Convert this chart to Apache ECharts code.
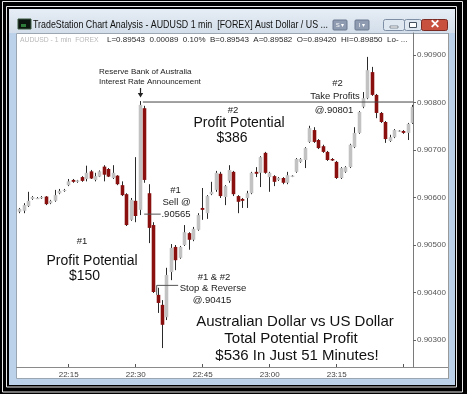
<!DOCTYPE html>
<html>
<head>
<meta charset="utf-8">
<script src="https://cdn.jsdelivr.net/npm/echarts@6/dist/echarts.min.js"></script>
<style>
html,body{margin:0;padding:0;background:#000;}
#chart{width:467px;height:394px;}
</style>
</head>
<body>
<div id="chart"></div>
<script>
// ---- data (AUDUSD 1 min) ----
var times = ['22:04','22:05','22:06','22:07','22:08','22:09','22:10','22:11','22:12','22:13','22:14',
'22:15','22:16','22:17','22:18','22:19','22:20','22:21','22:22','22:23','22:24','22:25','22:26','22:27','22:28','22:29',
'22:30','22:31','22:32','22:33','22:34','22:35','22:36','22:37','22:38','22:39','22:40','22:41','22:42','22:43','22:44',
'22:45','22:46','22:47','22:48','22:49','22:50','22:51','22:52','22:53','22:54','22:55','22:56','22:57','22:58','22:59',
'23:00','23:01','23:02','23:03','23:04','23:05','23:06','23:07','23:08','23:09','23:10','23:11','23:12','23:13','23:14',
'23:15','23:16','23:17','23:18','23:19','23:20','23:21','23:22','23:23','23:24','23:25','23:26','23:27','23:28','23:29',
'23:30','23:31','23:32'];
var opens = [0.90570,0.90572,0.90582,0.90597,0.90598,0.90599,0.90602,0.90588,0.90593,0.90609,0.90614,
0.90626,0.90637,0.90633,0.90643,0.90639,0.90655,0.90637,0.90644,0.90665,0.90660,0.90641,0.90646,0.90626,0.90607,0.90553,
0.90593,0.90574,0.90788,0.90609,0.90542,0.90395,0.90374,0.90348,0.90443,0.90496,0.90473,0.90500,0.90525,0.90511,0.90532,
0.90578,0.90567,0.90607,0.90616,0.90650,0.90601,0.90635,0.90654,0.90603,0.90597,0.90599,0.90609,0.90654,0.90652,0.90694,
0.90643,0.90645,0.90637,0.90641,0.90631,0.90644,0.90654,0.90675,0.90679,0.90717,0.90742,0.90721,0.90708,0.90696,0.90681,
0.90675,0.90641,0.90654,0.90664,0.90706,0.90736,0.90791,0.90809,0.90864,0.90816,0.90778,0.90759,0.90719,0.90727,0.90739,
0.90740,0.90736,0.90757];
var closes = [0.90576,0.90584,0.90593,0.90601,0.90599,0.90601,0.90586,0.90593,0.90605,0.90614,0.90616,
0.90634,0.90633,0.90636,0.90635,0.90652,0.90640,0.90645,0.90655,0.90648,0.90644,0.90652,0.90628,0.90605,0.90542,0.90595,
0.90561,0.90795,0.90637,0.90536,0.90401,0.90378,0.90332,0.90437,0.90494,0.90468,0.90496,0.90527,0.90511,0.90534,0.90563,
0.90574,0.90603,0.90612,0.90652,0.90603,0.90624,0.90658,0.90607,0.90591,0.90593,0.90609,0.90652,0.90650,0.90685,0.90652,
0.90652,0.90633,0.90641,0.90631,0.90647,0.90646,0.90681,0.90681,0.90704,0.90746,0.90717,0.90704,0.90696,0.90679,0.90678,
0.90641,0.90662,0.90664,0.90711,0.90736,0.90780,0.90809,0.90868,0.90816,0.90778,0.90759,0.90723,0.90727,0.90742,0.90741,
0.90736,0.90755,0.90791];
var lows = [0.90567,0.90567,0.90580,0.90595,0.90597,0.90597,0.90584,0.90586,0.90591,0.90607,0.90612,
0.90624,0.90631,0.90631,0.90633,0.90634,0.90639,0.90634,0.90643,0.90634,0.90643,0.90639,0.90626,0.90603,0.90540,0.90551,
0.90548,0.90563,0.90631,0.90504,0.90399,0.90357,0.90283,0.90342,0.90426,0.90447,0.90471,0.90498,0.90490,0.90508,0.90530,
0.90553,0.90555,0.90605,0.90612,0.90599,0.90584,0.90631,0.90603,0.90567,0.90578,0.90578,0.90607,0.90643,0.90622,0.90650,
0.90612,0.90624,0.90635,0.90628,0.90628,0.90643,0.90652,0.90673,0.90662,0.90715,0.90715,0.90702,0.90694,0.90677,0.90677,
0.90639,0.90639,0.90652,0.90662,0.90704,0.90734,0.90788,0.90807,0.90814,0.90767,0.90757,0.90715,0.90717,0.90725,0.90738,
0.90734,0.90721,0.90755];
var highs = [0.90578,0.90588,0.90612,0.90603,0.90601,0.90603,0.90603,0.90595,0.90616,0.90618,0.90618,
0.90639,0.90639,0.90637,0.90645,0.90667,0.90658,0.90652,0.90657,0.90668,0.90662,0.90668,0.90647,0.90634,0.90609,0.90599,
0.90685,0.90803,0.90793,0.90628,0.90548,0.90410,0.90384,0.90452,0.90502,0.90500,0.90498,0.90542,0.90527,0.90538,0.90567,
0.90620,0.90605,0.90633,0.90656,0.90654,0.90626,0.90668,0.90656,0.90605,0.90599,0.90614,0.90654,0.90664,0.90687,0.90696,
0.90654,0.90647,0.90643,0.90643,0.90654,0.90647,0.90683,0.90683,0.90706,0.90751,0.90748,0.90723,0.90711,0.90698,0.90683,
0.90677,0.90664,0.90666,0.90713,0.90748,0.90782,0.90822,0.90896,0.90875,0.90818,0.90780,0.90761,0.90732,0.90744,0.90742,
0.90742,0.90757,0.90795];
var xTickLabels = ['22:15','22:30','22:45','23:00','23:15'];
var xTickOnly = ['23:30'];
var yTickLabels = ['0.90300','0.90400','0.90500','0.90600','0.90700','0.90800','0.90900'];
var sellLevel = 0.90565, stopLevel = 0.90415, stopFrom = 0.90395, takeProfitLevel = 0.90801;
var sellSpan = ['22:31.9','22:35.6'];
var stopSpan = ['22:34.7','22:39.5'];
var takeProfitStart = '22:31.6';

// ---- helpers ----
function toMin(t){ var p=t.split(':'); return (parseInt(p[0],10)-22)*60+parseFloat(p[1]); }
function fmtMin(v){ var h=22+Math.floor(v/60), m=Math.round(v%60); return h+':'+(m<10?'0':'')+m; }

var candleData = times.map(function(t,i){ return [toMin(t), opens[i], closes[i], lows[i], highs[i]]; });
var xMin = 3.425, xMax = 92.08;
var yMin = 0.9024316, yMax = 0.9094632;

function renderCandle(params, api){
  var x=api.value(0), o=api.value(1), c=api.value(2), l=api.value(3), h=api.value(4);
  var pO=api.coord([x,o]), pC=api.coord([x,c]), pL=api.coord([x,l]), pH=api.coord([x,h]);
  var w=api.size([1,0])[0]*0.8;
  var up = c>=o;
  var top=Math.min(pO[1],pC[1]), bot=Math.max(pO[1],pC[1]);
  var hh=Math.max(bot-top,1.2);
  var cx=Math.round(pO[0]-0.5)+0.5;
  return {type:'group', children:[
    {type:'line', shape:{x1:cx,y1:pH[1],x2:cx,y2:pL[1]}, style:{stroke:'#2a2a2a',lineWidth:1}},
    {type:'rect', shape:{x:cx-w/2,y:top,width:w,height:hh}, style:{fill: up?'#c2c2c2':'#8a1010'}}
  ]};
}

function txt(s,x,y,size,color,align,extra){
  var o={type:'text', z:100, style:{text:s,x:x,y:y,font:(size)+'px "Liberation Sans", Arial, sans-serif',
    fill:color||'#1a1a1a', textAlign:align||'center', textVerticalAlign:'middle', align:align||'center', verticalAlign:'middle'}};
  if(extra){ for(var k in extra) o.style[k]=extra[k]; }
  return o;
}

var titleText = txt('TradeStation Chart Analysis - AUDUSD 1 min  [FOREX] Aust Dollar / US ...',0,0,11,'#111','left');
titleText.x = 33; titleText.y = 25; titleText.scaleX = 0.805;

var graphics = [
  {type:'rect', z:-10, shape:{x:0,y:0,width:467,height:394}, style:{fill:'#000'}},
  {type:'rect', z:-9, shape:{x:2.5,y:1.5,width:460,height:390.5}, style:{fill:null,stroke:'#e8e8e8',lineWidth:1}},
  {type:'rect', z:-9, shape:{x:6.5,y:6.5,width:450,height:380.5}, style:{fill:null,stroke:'#e8e8e8',lineWidth:1}},
  {type:'rect', z:-8, shape:{x:9,y:9,width:446,height:376}, style:{fill:'#bcd2ea'}},
  {type:'rect', z:-8, shape:{x:9,y:9,width:446,height:24}, style:{fill:new echarts.graphic.LinearGradient(0,0,0,1,[{offset:0,color:'#e6edf5'},{offset:1,color:'#d3deea'}])}},
  {type:'rect', z:-7, shape:{x:16.5,y:33.5,width:432,height:345}, style:{fill:'#fff',stroke:'#9aa6b2',lineWidth:1}},
  // title icon
  {type:'rect', z:-6, shape:{x:18,y:19,width:13,height:10}, style:{fill:'#0c1410',stroke:'#3a5a40',lineWidth:1}},
  {type:'rect', z:-6, shape:{x:21,y:24,width:5,height:3}, style:{fill:'#2e7a3a'}},
  titleText,
  // small toolbar buttons
  {type:'rect', z:-6, shape:{x:333,y:20,width:14,height:10,r:1}, style:{fill:'#8e9bb0',stroke:'#6b7890'}},
  txt('S \u25BE',340,25,6,'#fff','center'),
  {type:'rect', z:-6, shape:{x:355,y:20,width:14,height:10,r:1}, style:{fill:'#8e9bb0',stroke:'#6b7890'}},
  txt('I \u25BE',362,25,6,'#fff','center'),
  // window buttons
  {type:'rect', z:-6, shape:{x:383.5,y:19.5,width:21,height:11,r:2}, style:{fill:'#dfe7f0',stroke:'#7e8ea4'}},
  {type:'rect', z:-5, shape:{x:390,y:26,width:8,height:2}, style:{fill:'#fff',stroke:'#44505e',lineWidth:0.6}},
  {type:'rect', z:-6, shape:{x:404.5,y:19.5,width:17,height:11,r:2}, style:{fill:'#dfe7f0',stroke:'#7e8ea4'}},
  {type:'rect', z:-5, shape:{x:409.5,y:22.5,width:7,height:5}, style:{fill:'#fff',stroke:'#44505e',lineWidth:1}},
  {type:'rect', z:-6, shape:{x:421.5,y:19.5,width:26,height:11,r:2}, style:{fill:'#c8503e',stroke:'#7a2a22'}},
  txt('\u2715',434.5,25,8,'#fff','center',{fontWeight:'bold'}),
  // info line
  txt('AUDUSD - 1 min  FOREX',20,40,6.8,'#b9b9b9','left'),
  txt('L=0.89543  0.00089  0.10%  B=0.89543  A=0.89582  O=0.89420  HI=0.89850  Lo- ...',107,40,8,'#2a2a2a','left'),
  // panel lines
  {type:'line', z:-5, shape:{x1:16,y1:367.5,x2:449,y2:367.5}, style:{stroke:'#8a8a8a',lineWidth:1}},
  {type:'line', z:-5, shape:{x1:448.5,y1:33,x2:448.5,y2:379}, style:{stroke:'#9a9a9a',lineWidth:1}},
  // annotations
  txt('Reserve Bank of Australia',99,72,8,'#222','left'),
  txt('Interest Rate Announcement',99,82,8,'#222','left'),
  {type:'line', z:100, shape:{x1:140.5,y1:88,x2:140.5,y2:94}, style:{stroke:'#222',lineWidth:1.2}},
  {type:'polygon', z:100, shape:{points:[[137.8,93],[143.2,93],[140.5,97.5]]}, style:{fill:'#222'}},
  txt('#2',233,110,9.5,'#222'),
  txt('Profit Potential',239,123,14,'#111'),
  txt('$386',232,138,14,'#111'),
  txt('#2',337.5,83,9.5,'#222'),
  txt('Take Profits',335,96,9.5,'#222'),
  txt('@.90801',334,110,9.5,'#222'),
  txt('#1',175.5,190,9.5,'#222'),
  txt('Sell @',176.5,202,9.5,'#222'),
  txt('.90565',176,214,9.5,'#222'),
  txt('#1 & #2',214,277,9.5,'#222'),
  txt('Stop & Reverse',213,288.5,9.5,'#222'),
  txt('@.90415',212,300,9.5,'#222'),
  txt('#1',82,241,9.5,'#222'),
  txt('Profit Potential',92,261,14,'#111'),
  txt('$150',84.5,276,14,'#111'),
  txt('Australian Dollar vs US Dollar',295,322,15,'#111'),
  txt('Total Potential Profit',291,339,15,'#111'),
  txt('$536 In Just 51 Minutes!',297,356,15,'#111')
];

var chart = echarts.init(document.getElementById('chart'), null, {renderer:'canvas'});
chart.setOption({
  animation:false,
  backgroundColor:'transparent',
  grid:{left:17, right:54, top:33, bottom:27, containLabel:false},
  xAxis:{type:'value', min:xMin, max:xMax,
    axisLine:{show:false}, splitLine:{show:false},
    axisTick:{show:true, inside:true, length:3, lineStyle:{color:'#555'}, customValues: xTickLabels.concat(xTickOnly).map(toMin)},
    axisLabel:{show:true, customValues: xTickLabels.map(toMin), formatter:function(v){return fmtMin(v);},
      fontSize:8, color:'#444', margin:4, fontFamily:'"Liberation Sans", Arial, sans-serif'}},
  yAxis:{type:'value', position:'right', min:yMin, max:yMax, scale:true,
    axisLine:{show:true, lineStyle:{color:'#7a7a7a'}}, splitLine:{show:false},
    axisTick:{show:true, length:3, lineStyle:{color:'#666'}, customValues: yTickLabels.map(Number)},
    axisLabel:{show:true, customValues: yTickLabels.map(Number), formatter:function(v){return v.toFixed(5);},
      fontSize:8, color:'#555', margin:4, fontFamily:'"Liberation Sans", Arial, sans-serif'}},
  graphic: graphics,
  series:[
    {type:'custom', renderItem:renderCandle, data:candleData, clip:true, encode:{x:0,y:[1,2,3,4]}, z:5},
    {type:'line', data:[[toMin(takeProfitStart),takeProfitLevel],[xMax,takeProfitLevel]], symbol:'none',
      lineStyle:{color:'#444',width:1}, z:6, silent:true},
    {type:'line', data:[[toMin(sellSpan[0]),sellLevel],[toMin(sellSpan[1]),sellLevel]], symbol:'none',
      lineStyle:{color:'#555',width:1}, z:6, silent:true},
    {type:'line', data:[[toMin(stopSpan[0]),stopFrom],[toMin(stopSpan[0]),stopLevel],[toMin(stopSpan[1]),stopLevel]], symbol:'none',
      lineStyle:{color:'#555',width:1}, z:6, silent:true}
  ]
});
</script>
</body>
</html>
